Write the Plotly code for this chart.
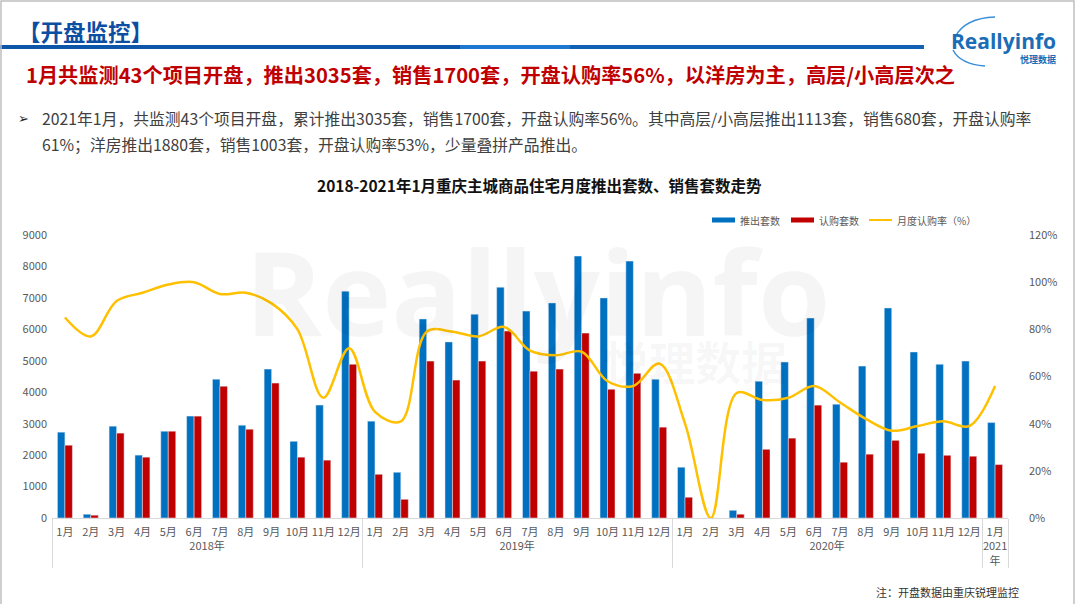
import plotly.graph_objects as go

# ---- data ----
years = ["2018年"] * 12 + ["2019年"] * 12 + ["2020年"] * 12 + ["2021<br>年"]
months = (["1月", "2月", "3月", "4月", "5月", "6月", "7月", "8月", "9月", "10月", "11月", "12月"] * 3
          + ["1月"])

supply = [2730, 120, 2920, 2000, 2760, 3240, 4415, 2950, 4735, 2440, 3590, 7215,
          3080, 1455, 6330, 5600, 6480, 7340, 6580, 6840, 8330, 7000, 8170, 4415,
          1615, 0, 245, 4350, 4960, 6360, 3620, 4830, 6680, 5280, 4890, 4990,
          3035]
sales = [2315, 90, 2700, 1935, 2760, 3240, 4190, 2825, 4290, 1935, 1840, 4890,
         1390, 595, 4990, 4385, 4990, 5945, 4670, 4735, 5880, 4095, 4600, 2890,
         660, 0, 120, 2185, 2540, 3590, 1775, 2030, 2470, 2060, 1995, 1965,
         1700]
rate = [85, 77, 92, 95.5, 99, 100, 95, 95.5, 91, 80, 51, 72,
        45, 41, 79, 79, 77, 81, 71, 69, 70.5, 58, 56, 65.5,
        40, 0, 53, 50, 51, 56, 49, 42, 37, 39, 41, 39,
        56]

BLUE, RED, GOLD = "#0070C0", "#C00000", "#FFC000"
FONT = "Noto Sans CJK SC"

# plot area in pixels (for placing the slide decorations)
W, H = 1079, 604
L, R, T, B = 52, 71, 235, 86
PW, PH = W - L - R, H - T - B


def px(x):
    return (x - L) / PW


def py(y):
    return (H - B - y) / PH


fig = go.Figure()
fig.add_trace(go.Bar(x=[years, months], y=supply, name="推出套数", marker_color=BLUE))
fig.add_trace(go.Bar(x=[years, months], y=sales, name="认购套数", marker_color=RED))
fig.add_trace(go.Scatter(x=[years, months], y=[v / 100 for v in rate], name="月度认购率（%）",
                         mode="lines", line=dict(color=GOLD, width=2.5, shape="spline", smoothing=1.0),
                         yaxis="y2"))

anns = []


def text(t, x, y, size, color, bold=False, xanchor="left", family=FONT):
    anns.append(dict(text=f"<b>{t}</b>" if bold else t, x=px(x), y=py(y), xref="paper", yref="paper",
                     xanchor=xanchor, yanchor="middle", showarrow=False,
                     font=dict(size=size, color=color, family=family)))


# watermark
text("Reallyinfo", 537, 290, 117, "rgba(0,0,0,0.04)", bold=True, xanchor="center", family="Open Sans")
text("悦理数据", 695, 360, 46, "rgba(0,0,0,0.035)", bold=True, xanchor="center")

# slide header
text("【开盘监控】", 16, 31, 22.5, "#0B4EA2", bold=True)
text("1月共监测43个项目开盘，推出3035套，销售1700套，开盘认购率56%，以洋房为主，高层/小高层次之",
     24, 74, 20.2, "#C00000", bold=True)
text("➢", 16, 119, 13, "#222222", family="DejaVu Sans")
text("2021年1月，共监测43个项目开盘，累计推出3035套，销售1700套，开盘认购率56%。其中高层/小高层推出1113套，销售680套，开盘认购率",
     40, 119, 15.8, "#404040")
text("61%；洋房推出1880套，销售1003套，开盘认购率53%，少量叠拼产品推出。", 40, 144, 15.8, "#404040")
text("2018-2021年1月重庆主城商品住宅月度推出套数、销售套数走势", 539, 185, 15.5, "#111111", bold=True,
     xanchor="center")
text("注：开盘数据由重庆锐理监控", 1021, 592, 11, "#333333", xanchor="right")

# logo
text("Reallyinfo", 1003, 41, 21, "#1B6DB5", bold=True, xanchor="center", family="Open Sans")
text("悦理数据", 1038, 59, 9, "#1B6DB5", bold=True, xanchor="center")

# manual legend
legend = [("推出套数", BLUE, 712), ("认购套数", RED, 791), ("月度认购率（%）", GOLD, 869)]
shapes = []
for name, col, x0 in legend:
    if col == GOLD:
        shapes.append(dict(type="line", xref="paper", yref="paper", x0=px(x0), x1=px(x0 + 23),
                           y0=py(220), y1=py(220), line=dict(color=col, width=2)))
    else:
        shapes.append(dict(type="rect", xref="paper", yref="paper", x0=px(x0), x1=px(x0 + 23),
                           y0=py(222.5), y1=py(217.5), fillcolor=col, line=dict(width=0)))
    text(name, x0 + 26, 220, 10, "#595959")

# header rule (blue, lighter in the middle)
for x0, x1, col in [(0, 460, "#0B56A8"), (460, 570, "#1E78D0"), (570, 924, "#1261B4")]:
    shapes.append(dict(type="line", xref="paper", yref="paper", x0=px(x0), x1=px(x1),
                       y0=py(47), y1=py(47), line=dict(color=col, width=4)))

# logo swoosh
shapes.append(dict(type="path", xref="paper", yref="paper",
                   path=f"M {px(955)} {py(37)} Q {px(965)} {py(18)} {px(995)} {py(17)}",
                   line=dict(color="#3A8FD8", width=1.5)))
shapes.append(dict(type="path", xref="paper", yref="paper",
                   path=f"M {px(953)} {py(50)} Q {px(960)} {py(64)} {px(985)} {py(66)}",
                   line=dict(color="#3A8FD8", width=1.5)))

# slide border
shapes.append(dict(type="rect", xref="paper", yref="paper", x0=px(1), x1=px(1074), y0=py(1), y1=py(610),
                   line=dict(color="#BFBFBF", width=1.5)))

fig.update_layout(
    width=W, height=H,
    margin=dict(l=L, r=R, t=T, b=B, autoexpand=False),
    paper_bgcolor="white", plot_bgcolor="rgba(0,0,0,0)",
    font=dict(family=FONT, size=11, color="#595959"),
    barmode="group", bargap=0.42, bargroupgap=0,
    showlegend=False,
    annotations=anns, shapes=shapes,
    xaxis=dict(type="multicategory", showline=True, linecolor="#D9D9D9", linewidth=1,
               ticks="", tickangle=0, showdividers=True, dividercolor="#D9D9D9", dividerwidth=1,
               tickfont=dict(size=11, color="#595959"), ticklabelstandoff=4),
    yaxis=dict(range=[0, 9000], dtick=1000, showgrid=False, zeroline=False,
               tickfont=dict(size=11, color="#595959"), ticklabelstandoff=4),
    yaxis2=dict(range=[0, 1.2], dtick=0.2, tickformat=".0%", overlaying="y", side="right",
                showgrid=False, zeroline=False, tickfont=dict(size=11, color="#595959"),
                ticklabelstandoff=20),
)

fig.write_html("out.html", config={"displayModeBar": False},
               post_script="document.body.style.margin='0px';")
